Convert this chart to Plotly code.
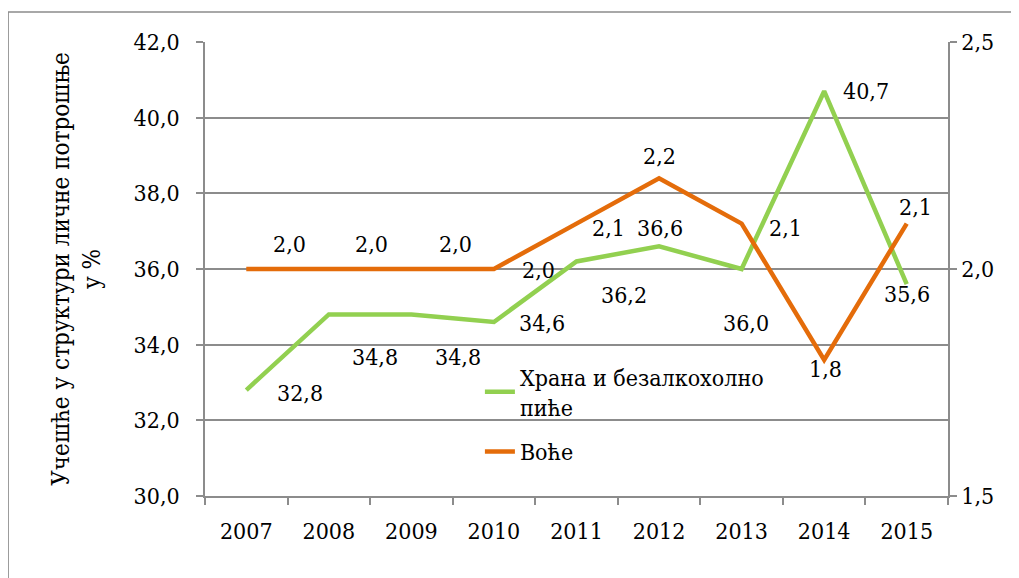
import plotly.graph_objects as go

years = ["2007", "2008", "2009", "2010", "2011", "2012", "2013", "2014", "2015"]
food = [32.8, 34.8, 34.8, 34.6, 36.2, 36.6, 36.0, 40.7, 35.6]
fruit = [2.0, 2.0, 2.0, 2.0, 2.1, 2.2, 2.1, 1.8, 2.1]
food_name = "Храна и безалкохолно<br>пиће"
fruit_name = "Воће"
y_title = "Учешће у структури личне потрошње<br>у %"

GREEN = "#92D050"
ORANGE = "#E46C0A"
GRID = "#8C8C8C"
FONT = "DejaVu Serif Condensed"
FS = 23

food_off = [(54, -3), (46, -43), (47, -43), (48, -1), (47, -34), (1, 18), (4, -54), (42, 0), (0, -10)]
fruit_off = [(43, 25), (43, 25), (44, 25), (45, -1), (32, -4), (0, 22), (44, -4), (1, -9), (9, 17)]

def fmt(v):
    return f"{v:.1f}".replace(".", ",")

idx = list(range(len(years)))

fig = go.Figure()
fig.add_trace(go.Scatter(x=idx, y=food, mode="lines", name=food_name, legendgroup="a",
                         line=dict(color=GREEN, width=4.5), yaxis="y"))
fig.add_trace(go.Scatter(x=idx, y=fruit, mode="lines", name=fruit_name, legendgroup="b",
                         line=dict(color=ORANGE, width=4.5), yaxis="y2"))

ann = []
for i, v, (dx, dy) in zip(idx, food, food_off):
    ann.append(dict(x=i, y=v, xref="x", yref="y", text=fmt(v), showarrow=False,
                    xshift=dx, yshift=dy, font=dict(family=FONT, size=FS, color="black")))
for i, v, (dx, dy) in zip(idx, fruit, fruit_off):
    ann.append(dict(x=i, y=v, xref="x", yref="y2", text=fmt(v), showarrow=False,
                    xshift=dx, yshift=dy, font=dict(family=FONT, size=FS, color="black")))

fig.update_layout(
    width=1019, height=578,
    margin=dict(l=197, r=79, t=34, b=90),
    paper_bgcolor="white", plot_bgcolor="white",
    separators=",.",
    font=dict(family=FONT, size=FS, color="black"),
    showlegend=True,
    legend=dict(x=0.37, y=0.31, xanchor="left", yanchor="top",
                bgcolor="rgba(0,0,0,0)", font=dict(family=FONT, size=FS),
                tracegroupgap=12),
    xaxis=dict(range=[-0.5, len(years) - 0.5], tickmode="array", tickvals=idx, ticktext=years,
               ticks="", showline=True, linecolor=GRID, linewidth=1.5,
               showgrid=False, zeroline=False, tickfont=dict(family=FONT, size=FS),
               ticklabelstandoff=14,
               minor=dict(tickmode="array", tickvals=[i - 0.5 for i in range(len(years) + 1)],
                          ticks="outside", ticklen=7, tickcolor=GRID, tickwidth=1.5, showgrid=False)),
    yaxis=dict(range=[30, 42], dtick=2, tickformat=".1f", ticks="outside", ticklen=7,
               tickcolor=GRID, tickwidth=1.5, showline=True, linecolor=GRID, linewidth=1.5,
               showgrid=True, gridcolor=GRID, gridwidth=1.5, zeroline=False,
               tickfont=dict(family=FONT, size=FS), ticklabelstandoff=12,
               title=dict(text=y_title, font=dict(family=FONT, size=24), standoff=26)),
    yaxis2=dict(range=[1.5, 2.5], dtick=0.5, tickformat=".1f", overlaying="y", side="right",
                ticks="outside", ticklen=7, tickcolor=GRID, tickwidth=1.5,
                showline=True, linecolor=GRID, linewidth=1.5, showgrid=False, zeroline=False,
                tickfont=dict(family=FONT, size=FS)),
    annotations=ann,
    shapes=[dict(type="rect", xref="paper", yref="paper", x0=-0.265, x1=1.4, y0=-0.25, y1=1.066,
                 line=dict(color=GRID, width=1.5), layer="below")],
)

fig.write_html("out.html")
